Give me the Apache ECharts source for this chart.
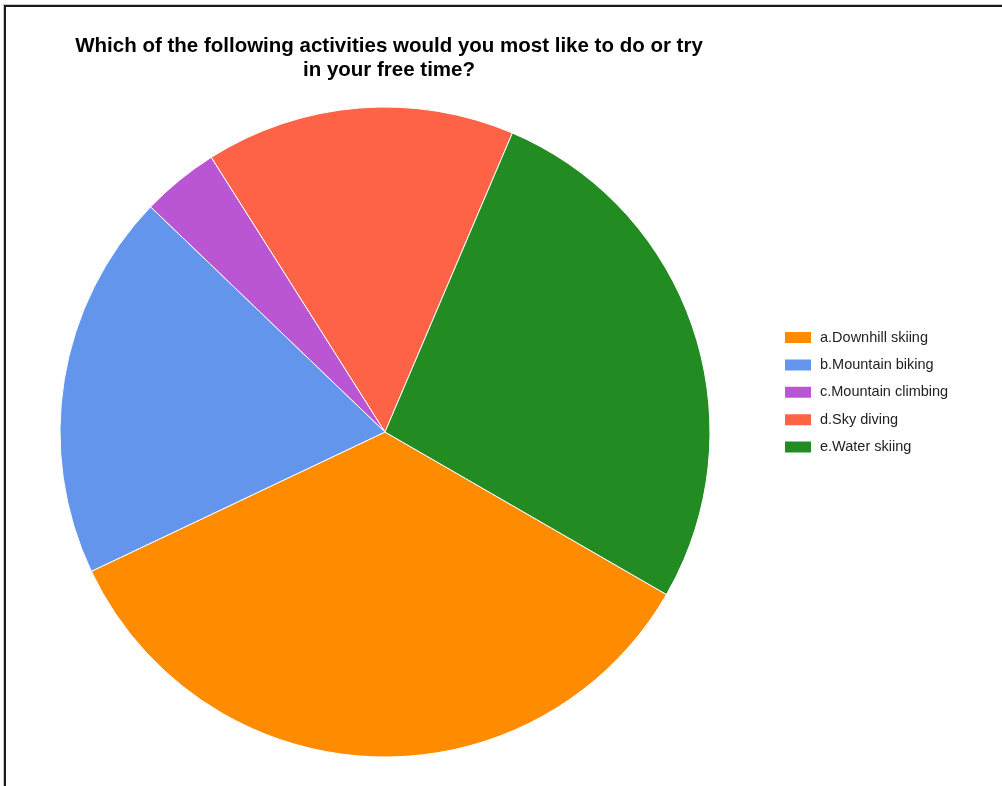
<!DOCTYPE html>
<html>
<head>
<meta charset="utf-8">
<style>
  html, body { margin: 0; padding: 0; background: #ffffff; }
  #chart { width: 1002px; height: 786px; }
</style>
<script src="https://cdn.jsdelivr.net/npm/echarts@6/dist/echarts.min.js"></script>
</head>
<body>
<div id="chart"></div>
<script>
// Survey answers: number of respondents per activity
const categories = [
  'a.Downhill skiing',
  'b.Mountain biking',
  'c.Mountain climbing',
  'd.Sky diving',
  'e.Water skiing'
];
const counts = [9, 5, 1, 4, 7];
const sliceColors = ['#ff8c00', '#6495ed', '#ba55d3', '#ff6347', '#228b22'];
const titleText = 'Which of the following activities would you most like to do or try\nin your free time?';

const chart = echarts.init(document.getElementById('chart'), null, { renderer: 'canvas' });

const pieData = categories.map((name, i) => ({
  name: name,
  value: counts[i],
  itemStyle: { color: sliceColors[i] }
}));

chart.setOption({
  backgroundColor: '#ffffff',
  animation: false,
  title: {
    text: titleText,
    left: 384,
    top: 29,
    textAlign: 'center',
    textStyle: {
      fontFamily: 'Liberation Sans, Arial, sans-serif',
      fontSize: 20.5,
      fontWeight: 'bold',
      color: '#000000',
      lineHeight: 24
    }
  },
  legend: {
    orient: 'vertical',
    left: 778,
    top: 325,
    padding: 5,
    itemWidth: 28,
    itemHeight: 13,
    itemGap: 12.4,
    icon: 'rect',
    data: categories,
    textStyle: {
      fontFamily: 'Liberation Sans, Arial, sans-serif',
      fontSize: 14.5,
      lineHeight: 15,
      color: '#222222',
      padding: [0, 0, 0, 3]
    }
  },
  graphic: [
    // frame: thin light outline plus dark 2px edge on the left and top
    { type: 'line', shape: { x1: 3.5, y1: 4, x2: 3.5, y2: 786 }, style: { stroke: '#c8c8c8', lineWidth: 1 } },
    { type: 'line', shape: { x1: 3, y1: 4.5, x2: 1002, y2: 4.5 }, style: { stroke: '#c8c8c8', lineWidth: 1 } },
    { type: 'line', shape: { x1: 5, y1: 5, x2: 5, y2: 786 }, style: { stroke: '#1a1a1a', lineWidth: 2 } },
    { type: 'line', shape: { x1: 4, y1: 6, x2: 1002, y2: 6 }, style: { stroke: '#1a1a1a', lineWidth: 2 } }
  ],
  series: [{
    type: 'pie',
    center: [385, 432],
    radius: 325,
    startAngle: -30,
    clockwise: true,
    label: { show: false },
    labelLine: { show: false },
    emphasis: { disabled: true },
    itemStyle: { borderColor: '#ffffff', borderWidth: 1 },
    data: pieData
  }]
});
</script>
</body>
</html>
